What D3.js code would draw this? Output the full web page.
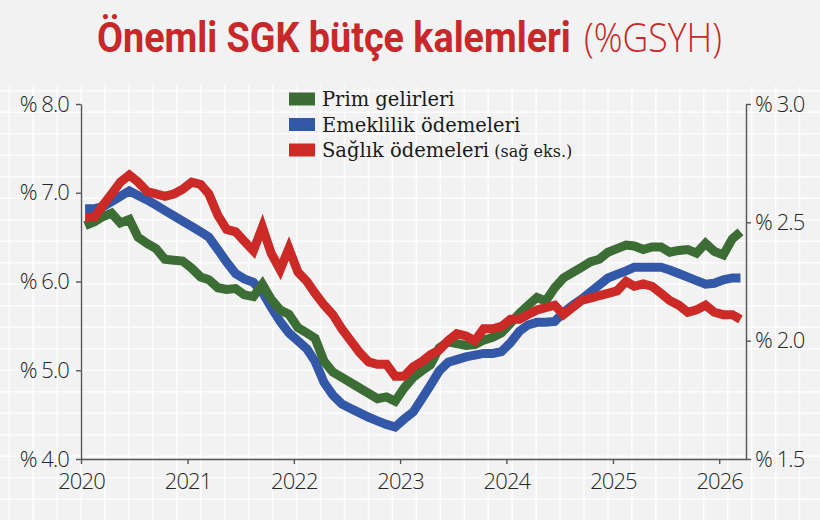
<!DOCTYPE html>
<html>
<head>
<meta charset="utf-8">
<script src="https://cdn.jsdelivr.net/npm/d3@7"></script>
<style>
  body { margin: 0; background: #f2f2f2; }
  svg { display: block; }
</style>
</head>
<body>
<div id="chart"></div>
<script>
const W = 820, H = 520;
const margin = { top: 104, right: 74, bottom: 61, left: 81 },
      width = W - margin.left - margin.right,
      height = H - margin.top - margin.bottom;

// Data (monthly, Jan 2020 - Mar 2026)
const months = d3.timeMonth.range(new Date(2020, 0, 1), new Date(2026, 3, 1));

const primGelirleri = [
  6.63, 6.67, 6.73, 6.77, 6.66, 6.70, 6.50, 6.43, 6.37, 6.25, 6.24, 6.23,
  6.15, 6.05, 6.02, 5.93, 5.91, 5.92, 5.85, 5.83, 5.97, 5.80, 5.68, 5.63,
  5.48, 5.42, 5.36, 5.10, 4.98, 4.92, 4.86, 4.80, 4.74, 4.68, 4.70, 4.65,
  4.80, 4.92, 4.99, 5.06, 5.25, 5.32, 5.30, 5.28, 5.29, 5.34, 5.37, 5.42,
  5.53, 5.64, 5.73, 5.82, 5.78, 5.93, 6.04, 6.10, 6.16, 6.22, 6.25, 6.33,
  6.37, 6.41, 6.40, 6.36, 6.39, 6.39, 6.33, 6.35, 6.36, 6.32, 6.43, 6.34,
  6.30, 6.48, 6.56
];

const emeklilikOdemeleri = [
  6.82, 6.82, 6.84, 6.90, 6.96, 7.02, 6.97, 6.92, 6.86, 6.80, 6.74, 6.68,
  6.62, 6.56, 6.50, 6.36, 6.22, 6.09, 6.03, 5.99, 5.88, 5.71, 5.55, 5.42,
  5.33, 5.24, 5.10, 4.86, 4.72, 4.62, 4.57, 4.52, 4.47, 4.43, 4.39, 4.36,
  4.45, 4.53, 4.67, 4.83, 4.99, 5.09, 5.12, 5.15, 5.17, 5.19, 5.19, 5.21,
  5.31, 5.44, 5.51, 5.54, 5.54, 5.55, 5.65, 5.73, 5.80, 5.88, 5.96, 6.04,
  6.08, 6.12, 6.16, 6.16, 6.16, 6.16, 6.13, 6.09, 6.05, 6.01, 5.97, 5.98,
  6.02, 6.04, 6.04
];

// right axis
const saglikOdemeleri = [
  2.52, 2.52, 2.57, 2.62, 2.67, 2.70, 2.67, 2.63, 2.62, 2.61, 2.62, 2.64,
  2.67, 2.66, 2.62, 2.53, 2.47, 2.46, 2.42, 2.38, 2.48, 2.37, 2.30, 2.39,
  2.29, 2.25, 2.20, 2.15, 2.11, 2.05, 2.00, 1.95, 1.91, 1.90, 1.90, 1.85,
  1.85, 1.89, 1.91, 1.94, 1.96, 2.00, 2.03, 2.02, 2.00, 2.05, 2.05, 2.06,
  2.09, 2.09, 2.11, 2.13, 2.14, 2.15, 2.11, 2.14, 2.17, 2.18, 2.19, 2.20,
  2.21, 2.25, 2.23, 2.24, 2.23, 2.20, 2.17, 2.15, 2.12, 2.13, 2.15, 2.12,
  2.11, 2.11, 2.09
];

const yearTicks = [2020, 2021, 2022, 2023, 2024, 2025, 2026];
const leftTicks = [4, 5, 6, 7, 8];
const rightTicks = [1.5, 2.0, 2.5, 3.0];

const seriesNames = ["Prim gelirleri", "Emeklilik ödemeleri", "Sağlık ödemeleri"];
const colors = { green: "#3c6d34", blue: "#3458a8", red: "#cb2a27" };

const root = d3.select("#chart").append("svg")
  .attr("width", W)
  .attr("height", H);

root.append("rect").attr("width", W).attr("height", H).attr("fill", "#f2f2f2");

// background paper grid
const grid = root.append("g").attr("stroke", "#ffffff").attr("stroke-width", 1.6).attr("opacity", 0.85);
grid.selectAll("line.h")
  .data(d3.range(90.8, H, 21.5))
  .join("line")
    .attr("x1", 0).attr("x2", W)
    .attr("y1", d => d).attr("y2", d => d);
grid.selectAll("line.v")
  .data(d3.range(9.2, W, 23.95))
  .join("line")
    .attr("x1", d => d).attr("x2", d => d)
    .attr("y1", 86).attr("y2", H);

// Title: squeeze each part to its width in the reference
function fitText(str, x0, w, family, weight, size) {
  const t = root.append("text")
    .attr("fill", "#c8282a")
    .style("font-family", family)
    .style("font-weight", weight)
    .style("font-size", size + "px")
    .text(str);
  const len = t.node().getComputedTextLength();
  t.attr("transform", `translate(${x0},52) scale(${w / len},1)`);
  return t;
}
fitText("Önemli SGK bütçe kalemleri", 97, 474, "Roboto, 'Open Sans', sans-serif", 700, 42);
fitText("(%GSYH)", 584, 138, "'Open Sans', Roboto, sans-serif", 300, 40);

const svg = root.append("g")
  .attr("transform", `translate(${margin.left},${margin.top})`);

// Scales
const x = d3.scaleTime()
  .domain([new Date(2020, 0, 1), new Date(2026, 3, 3)])
  .range([0, width]);
const yL = d3.scaleLinear().domain([4, 8]).range([height, 0]);
const yR = d3.scaleLinear().domain([1.5, 3]).range([height, 0]);

const fmt = d => "% " + d3.format(".1f")(d);

// Axes
const styleAxis = g => {
  g.select(".domain").attr("stroke", "#555").attr("stroke-width", 1.4);
  g.selectAll(".tick line").attr("stroke", "#555").attr("stroke-width", 1.4);
  g.selectAll(".tick text")
    .attr("fill", "#262626")
    .style("font-family", "'Open Sans', sans-serif")
    .style("font-weight", 300)
    .style("font-size", "22px")
    .style("letter-spacing", "-0.9px");
};

svg.append("g")
  .attr("transform", `translate(0,${height})`)
  .call(d3.axisBottom(x)
    .tickValues(yearTicks.map(yr => new Date(yr, 0, 1)))
    .tickFormat(d3.timeFormat("%Y"))
    .tickSize(5).tickSizeOuter(0).tickPadding(9))
  .call(styleAxis);

svg.append("g")
  .call(d3.axisLeft(yL).tickValues(leftTicks).tickFormat(fmt)
    .tickSize(5).tickSizeOuter(0).tickPadding(7))
  .call(styleAxis);

svg.append("g")
  .attr("transform", `translate(${width},0)`)
  .call(d3.axisRight(yR).tickValues(rightTicks).tickFormat(fmt)
    .tickSize(5).tickSizeOuter(0).tickPadding(4))
  .call(styleAxis);

// Lines
const mid = d => d3.timeDay.offset(d, 14);
const lineL = d3.line().x((d, i) => x(mid(months[i]))).y(d => yL(d));
const lineR = d3.line().x((d, i) => x(mid(months[i]))).y(d => yR(d));

const drawLine = (values, gen, color) => svg.append("path")
  .datum(values)
  .attr("d", gen)
  .attr("fill", "none")
  .attr("stroke", color)
  .attr("stroke-width", 9)
  .attr("stroke-linejoin", "miter")
  .attr("stroke-miterlimit", 3);

drawLine(emeklilikOdemeleri, lineL, colors.blue);
drawLine(primGelirleri, lineL, colors.green);
drawLine(saglikOdemeleri, lineR, colors.red);

// Legend
const legendItems = [
  { name: seriesNames[0], color: colors.green, note: "" },
  { name: seriesNames[1], color: colors.blue, note: "" },
  { name: seriesNames[2], color: colors.red, note: "(sağ eks.)" }
];

const legend = root.append("g").attr("transform", "translate(289,99)");
const item = legend.selectAll("g")
  .data(legendItems)
  .join("g")
    .attr("transform", (d, i) => `translate(0,${i * 25.5})`);
item.append("rect")
  .attr("x", 0).attr("y", -6.5)
  .attr("width", 26).attr("height", 13)
  .attr("fill", d => d.color);
const lt = item.append("text")
  .attr("x", 33).attr("y", 7)
  .style("font-family", "'DejaVu Serif', serif")
  .style("font-size", "19.5px")
  .attr("fill", "#1a1a1a");
lt.append("tspan").text(d => d.name);
lt.append("tspan")
  .style("font-size", "16px")
  .text(d => d.note ? " " + d.note : "");
</script>
</body>
</html>
